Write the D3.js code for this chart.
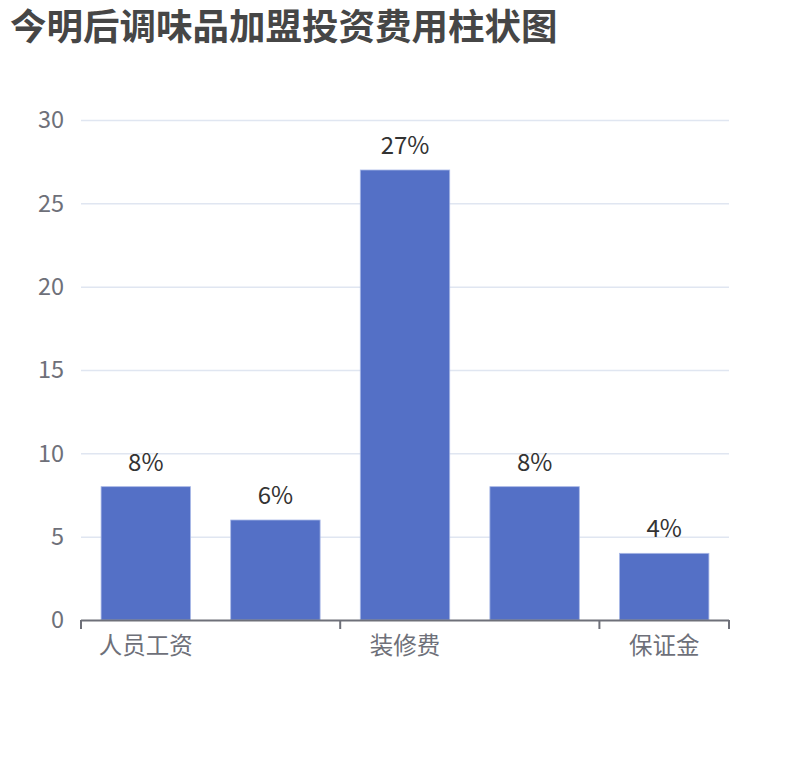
<!DOCTYPE html>
<html>
<head>
<meta charset="utf-8">
<script src="https://cdn.jsdelivr.net/npm/d3@7/dist/d3.min.js"></script>
<style>
  html, body { margin: 0; padding: 0; background: #ffffff; }
  svg { display: block; font-family: "Noto Sans CJK SC", "Noto Sans", sans-serif; }
</style>
</head>
<body>
<svg id="chart" width="810" height="760"></svg>
<script>
const titleText = "今明后调味品加盟投资费用柱状图";
const categories = ["人员工资", "店面租金", "装修费", "首批进货", "保证金"];
const values = [8, 6, 27, 8, 4];
const yTicks = [0, 5, 10, 15, 20, 25, 30];
const labelInterval = 2; // every other category label shown

const svg = d3.select("#chart");
const x0 = 81, x1 = 729, yTop = 120, yBot = 620;

svg.append("text")
  .attr("x", 10).attr("y", 40)
  .attr("font-size", 36.5).attr("font-weight", "bold")
  .attr("fill", "#464646")
  .text(titleText);

const x = d3.scaleBand().domain(categories).range([x0, x1]).paddingInner(0).paddingOuter(0);
const y = d3.scaleLinear().domain([0, 30]).range([yBot, yTop]);

// grid lines
svg.append("g").selectAll("line").data(yTicks.filter(d => d > 0)).join("line")
  .attr("x1", x0).attr("x2", x1)
  .attr("y1", d => y(d) + 0.5).attr("y2", d => y(d) + 0.5)
  .attr("stroke", "#e0e6f1").attr("stroke-width", 1.5);

// y labels
svg.append("g").selectAll("text").data(yTicks).join("text")
  .attr("x", 64).attr("y", d => y(d))
  .attr("dy", "0.35em")
  .attr("text-anchor", "end")
  .attr("font-size", 23.5).attr("fill", "#6e7079")
  .text(d => d);

// bars
const bw = x.bandwidth() * 0.69;
svg.append("g").selectAll("rect").data(values).join("rect")
  .attr("x", (d, i) => x(categories[i]) + (x.bandwidth() - bw) / 2)
  .attr("y", d => y(d))
  .attr("width", bw)
  .attr("height", d => yBot - y(d))
  .attr("fill", "#5470c6")
  .attr("stroke", "#a9b8e6").attr("stroke-width", 0.8);

// bar labels
svg.append("g").selectAll("text").data(values).join("text")
  .attr("x", (d, i) => x(categories[i]) + x.bandwidth() / 2)
  .attr("y", d => y(d) - 16)
  .attr("text-anchor", "middle")
  .attr("font-size", 24).attr("fill", "#333333")
  .text(d => d + "%");

// x axis line
svg.append("line")
  .attr("x1", x0).attr("x2", x1)
  .attr("y1", yBot + 0.5).attr("y2", yBot + 0.5)
  .attr("stroke", "#6e7079").attr("stroke-width", 2);

// ticks at boundaries of shown labels plus end
const tickPos = categories.map((c, i) => i).filter(i => i % labelInterval === 0).map(i => x(categories[i]));
tickPos.push(x1);
svg.append("g").selectAll("line").data(tickPos).join("line")
  .attr("x1", d => d).attr("x2", d => d)
  .attr("y1", yBot).attr("y2", yBot + 9)
  .attr("stroke", "#6e7079").attr("stroke-width", 2);

// x labels
svg.append("g").selectAll("text")
  .data(categories.filter((c, i) => i % labelInterval === 0)).join("text")
  .attr("x", d => x(d) + x.bandwidth() / 2)
  .attr("y", 646)
  .attr("dy", "0.35em")
  .attr("text-anchor", "middle")
  .attr("font-size", 23.5).attr("fill", "#6e7079")
  .text(d => d);
</script>
</body>
</html>
